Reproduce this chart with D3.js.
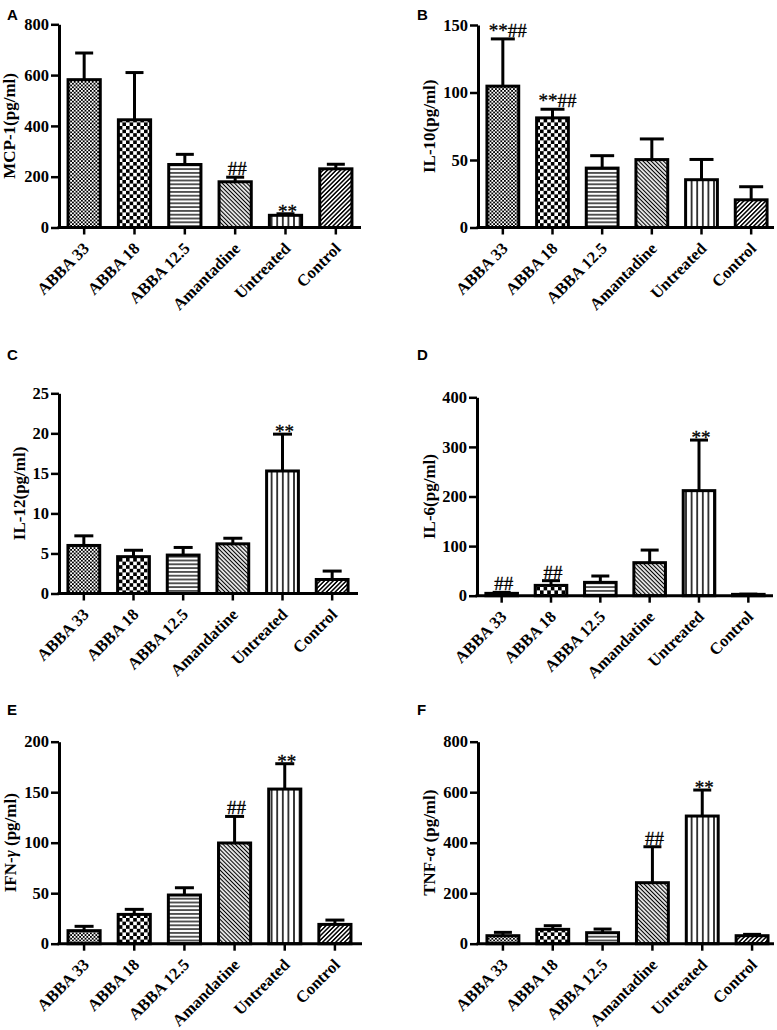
<!DOCTYPE html>
<html><head><meta charset="utf-8">
<script src="https://cdn.jsdelivr.net/npm/d3@7"></script>
<style>body{margin:0;background:#fff}svg{display:block}</style>
</head><body>
<svg id="chart" width="777" height="1030"></svg>
<script>
// ---------- data ----------
const categoriesA = ["ABBA 33","ABBA 18","ABBA 12.5","Amantadine","Untreated","Control"];
const categoriesB = ["ABBA 33","ABBA 18","ABBA 12.5","Amandatine","Untreated","Control"];

const mcp1Mean = [582, 424, 248, 180, 48, 231];
const mcp1Sem  = [105, 186, 40, 18, 6, 18];
const il10Mean = [104.7, 81.2, 44, 50.3, 35.4, 20.5];
const il10Sem  = [35, 6.4, 9.2, 15.3, 15, 9.7];
const il12Mean = [6.0, 4.6, 4.8, 6.2, 15.3, 1.75];
const il12Sem  = [1.2, 0.8, 0.95, 0.7, 4.6, 1.05];
const il6Mean  = [4.7, 20.8, 26.9, 66.6, 211.8, 2.7];
const il6Sem   = [2, 9.5, 12.8, 25.4, 102, 0.5];
const ifnMean  = [12.9, 29, 48.2, 99.7, 153.1, 19.1];
const ifnSem   = [4.3, 5, 7.2, 26.3, 25.1, 4.3];
const tnfMean  = [31.7, 56.8, 43.6, 241.6, 505.6, 31.7];
const tnfSem   = [13.2, 14.5, 14.4, 142.4, 103, 5.3];

const ticksMcp1 = [0, 200, 400, 600, 800];
const ticksIl10 = [0, 50, 100, 150];
const ticksIl12 = [0, 5, 10, 15, 20, 25];
const ticksIl6  = [0, 100, 200, 300, 400];
const ticksIfn  = [0, 50, 100, 150, 200];
const ticksTnf  = [0, 200, 400, 600, 800];

const annotA = ["", "", "", "##", "**", ""];
const annotB = ["**##", "**##", "", "", "", ""];
const annotC = ["", "", "", "", "**", ""];
const annotD = ["##", "##", "", "", "**", ""];
const annotE = ["", "", "", "##", "**", ""];
const annotF = ["", "", "", "##", "**", ""];

const panelLetters = ["A", "B", "C", "D", "E", "F"];
// [prefix, italic greek, suffix]
const yTitles = [["MCP-1(pg/ml)","",""], ["IL-10(pg/ml)","",""], ["IL-12(pg/ml)","",""],
                 ["IL-6(pg/ml)","",""], ["IFN-","γ"," (pg/ml)"], ["TNF-","α"," (pg/ml)"]];

// ---------- layout (positions only) ----------
const layout = [
  {lx:7,   ly:20,  ax:59,  y0:227.5, y1:24.3,  xr:[59,361],  end:361, tOff:50,  cap:18},
  {lx:417, ly:20,  ax:478, y0:227.5, y1:25,    xr:[478,776], end:774, tOff:49,  cap:24},
  {lx:7,   ly:360, ax:59,  y0:593.5, y1:393.3, xr:[59,357],  end:358, tOff:40,  cap:19},
  {lx:417, ly:360, ax:477, y0:595.7, y1:397.3, xr:[477,773], end:773, tOff:47.5,cap:18},
  {lx:7,   ly:715, ax:59,  y0:943.7, y1:741.7, xr:[59,360],  end:362, tOff:49,  cap:19},
  {lx:417, ly:715, ax:478, y0:943.7, y1:741.7, xr:[478,777], end:774, tOff:49,  cap:18}
];

const panels = [
  {cats:categoriesA, mean:mcp1Mean, sem:mcp1Sem, ticks:ticksMcp1, annot:annotA},
  {cats:categoriesA, mean:il10Mean, sem:il10Sem, ticks:ticksIl10, annot:annotB},
  {cats:categoriesB, mean:il12Mean, sem:il12Sem, ticks:ticksIl12, annot:annotC},
  {cats:categoriesB, mean:il6Mean,  sem:il6Sem,  ticks:ticksIl6,  annot:annotD},
  {cats:categoriesB, mean:ifnMean,  sem:ifnSem,  ticks:ticksIfn,  annot:annotE},
  {cats:categoriesA, mean:tnfMean,  sem:tnfSem,  ticks:ticksTnf,  annot:annotF}
];

const svg = d3.select("#chart");
const defs = svg.append("defs");

function checker(id, s) {
  const p = defs.append("pattern").attr("id", id).attr("patternUnits", "userSpaceOnUse")
    .attr("width", 2*s).attr("height", 2*s);
  p.append("rect").attr("width", 2*s).attr("height", 2*s).attr("fill", "#fff");
  p.append("rect").attr("x", 0).attr("y", 0).attr("width", s).attr("height", s).attr("fill", "#000");
  p.append("rect").attr("x", s).attr("y", s).attr("width", s).attr("height", s).attr("fill", "#000");
}
function lines(id, w, sw, rot) {
  const p = defs.append("pattern").attr("id", id).attr("patternUnits", "userSpaceOnUse")
    .attr("width", w).attr("height", w);
  if (rot) p.attr("patternTransform", `rotate(${rot})`);
  p.append("rect").attr("width", w).attr("height", w).attr("fill", "#fff");
  p.append("rect").attr("x", (w - sw)/2).attr("y", 0).attr("width", sw).attr("height", w).attr("fill", "#000");
}
function hlines(id, w, sw) {
  const p = defs.append("pattern").attr("id", id).attr("patternUnits", "userSpaceOnUse")
    .attr("width", w).attr("height", w);
  p.append("rect").attr("width", w).attr("height", w).attr("fill", "#fff");
  p.append("rect").attr("x", 0).attr("y", (w - sw)/2).attr("width", w).attr("height", sw).attr("fill", "#000");
}
checker("p0", 1.8);
checker("p1", 3.6);
hlines("p2", 3.8, 1.3);
lines("p3", 2.9, 1.2, -45);
lines("p4", 5.6, 1.5, 0);
lines("p5", 3.1, 1.5, 45);
const fills = ["url(#p0)","url(#p1)","url(#p2)","url(#p3)","url(#p4)","url(#p5)"];

const serif = "'Liberation Serif','Times New Roman',serif";

panels.forEach((P, k) => {
  const L = layout[k];
  const g = svg.append("g");
  const x = d3.scaleBand().domain(P.cats).range(L.xr).paddingInner(0.36).paddingOuter(0.18);
  const y = d3.scaleLinear().domain([0, d3.max(P.ticks)]).range([L.y0, L.y1]);

  g.selectAll("rect.bar").data(P.cats).join("rect")
    .attr("class", "bar")
    .attr("x", d => x(d)).attr("width", x.bandwidth())
    .attr("y", (d, i) => y(P.mean[i]))
    .attr("height", (d, i) => L.y0 - y(P.mean[i]))
    .attr("fill", (d, i) => fills[i])
    .attr("stroke", "#000").attr("stroke-width", 3);

  P.cats.forEach((c, i) => {
    const cx = x(c) + x.bandwidth()/2;
    const top = y(P.mean[i] + P.sem[i]);
    g.append("line").attr("x1", cx).attr("x2", cx).attr("y1", y(P.mean[i])).attr("y2", top)
      .attr("stroke", "#000").attr("stroke-width", 3);
    g.append("line").attr("x1", cx - L.cap/2).attr("x2", cx + L.cap/2).attr("y1", top).attr("y2", top)
      .attr("stroke", "#000").attr("stroke-width", 3);
    const a = P.annot[i];
    if (a) {
      const hasHash = a.includes("#");
      g.append("text").attr("x", cx + (a.length > 2 ? 5 : 2))
        .attr("y", hasHash ? top - 2 : top + 4)
        .attr("text-anchor", "middle")
        .attr("font-family", serif).attr("font-size", 19)
        .attr("stroke", "#000").attr("stroke-width", 0.3)
        .text(a);
    }
  });

  const ya = g.append("g").attr("transform", `translate(${L.ax},0)`)
    .call(d3.axisLeft(y).tickValues(P.ticks).tickSize(8).tickSizeOuter(0).tickPadding(2));
  ya.select(".domain").attr("stroke-width", 3).attr("stroke", "#000");
  ya.selectAll(".tick line").attr("stroke-width", 2.5).attr("stroke", "#000");
  ya.selectAll(".tick text").attr("font-family", serif).attr("font-weight", "bold")
    .attr("font-size", 16.5).attr("fill", "#000");

  const xa = g.append("g").attr("transform", `translate(0,${L.y0})`)
    .call(d3.axisBottom(x).tickSize(7).tickSizeOuter(0));
  xa.select(".domain").remove();
  xa.selectAll(".tick line").attr("stroke-width", 2.5).attr("stroke", "#000");
  xa.selectAll(".tick text").attr("font-family", serif).attr("font-weight", "bold")
    .attr("font-size", 16.5).attr("fill", "#000")
    .attr("text-anchor", "end").attr("dy", null).attr("y", 0)
    .attr("transform", "translate(6,22) rotate(-45)");
  g.append("line").attr("x1", L.ax - 1.5).attr("x2", L.end).attr("y1", L.y0).attr("y2", L.y0)
    .attr("stroke", "#000").attr("stroke-width", 3);

  const yc = (L.y0 + L.y1) / 2;
  const t = g.append("text").attr("transform", `translate(${L.ax - L.tOff},${yc}) rotate(-90)`)
    .attr("text-anchor", "middle").attr("dy", "0.35em")
    .attr("font-family", serif).attr("font-weight", "bold").attr("font-size", 17);
  t.append("tspan").text(yTitles[k][0]);
  if (yTitles[k][1]) {
    t.append("tspan").attr("font-style", "italic").text(yTitles[k][1]);
    t.append("tspan").text(yTitles[k][2]);
  }

  g.append("text").attr("x", L.lx).attr("y", L.ly)
    .attr("font-family", "'Liberation Sans',Arial,sans-serif").attr("font-weight", "bold")
    .attr("font-size", 15).text(panelLetters[k]);
});
</script>
</body></html>
